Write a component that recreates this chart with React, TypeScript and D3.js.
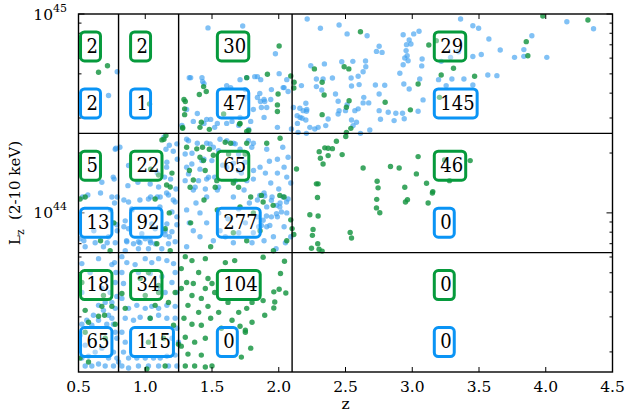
import React from 'react';
import * as d3 from 'd3';

// ---------- data ----------
const zEdges = [0.5, 0.8, 1.25, 2.1, 4.5];
const logLEdges = [45, 44.4, 43.8, 43.2];
const xTickValues = [0.5, 1.0, 1.5, 2.0, 2.5, 3.0, 3.5, 4.0, 4.5];
const yMajorExps = [44, 45];
const greenCounts = [
  [2, 2, 30, 29],
  [5, 22, 65, 46],
  [18, 34, 104, 0],
];
const blueCounts = [
  [2, 1, 47, 145],
  [13, 92, 277, 0],
  [65, 115, 0, 0],
];

// [z, log10 Lx]
const bluePoints: [number, number][] = [
  [0.79,44.71],[0.725,44.59],
  [1.47,44.93],[1.73,44.94],[1.33,44.68],[1.425,44.68],[1.43,44.66],[1.76,44.68],[1.82,44.685],[1.75,44.62],
  [1.36,44.46],[1.44,44.45],[1.49,44.47],[1.52,44.43],[1.65,44.46],[1.70,44.44],[1.775,44.42],[1.79,44.46],[1.275,44.44],[1.61,44.45],
  [1.975,44.80],[2.003,44.70],[1.865,44.67],[1.945,44.62],[2.033,44.63],[2.07,44.61],[1.858,44.60],[1.895,44.56],[1.863,44.56],[1.94,44.57],[1.87,44.53],
  [1.84,44.685],[1.34,44.68],[1.44,44.65],[1.61,44.64],[1.64,44.63],[1.71,44.67],[1.76,44.58],[1.84,44.58],[1.89,44.57],[1.91,44.53],
  [2.04,44.63],[2.06,44.67],[1.31,44.52],[1.39,44.50],[1.46,44.47],[1.54,44.45],[1.71,44.48],[1.81,44.52],[1.89,44.48],[1.99,44.43],
  [2.11,44.53],[2.16,44.48],[2.21,44.52],
  [2.213,44.975],[2.312,44.928],[2.452,44.945],[2.512,44.90],[2.662,44.891],[2.732,44.812],[2.774,44.807],[2.752,44.838],[2.932,44.896],
  [2.977,44.869],[2.99,44.849],[2.957,44.846],[3.011,44.90],[3.051,44.913],[2.954,44.816],[2.962,44.79],[2.944,44.779],[2.969,44.765],
  [3.074,44.774],[3.071,44.739],[2.932,44.745],[2.907,44.702],[2.24,44.74],[2.342,44.749],[2.472,44.76],[2.555,44.762],[2.65,44.764],
  [2.652,44.735],[2.632,44.71],[2.595,44.687],[2.542,44.678],[2.282,44.673],[2.332,44.673],[2.402,44.678],[2.17,44.64],[2.282,44.635],
  [2.322,44.618],[2.425,44.598],[2.545,44.638],[2.602,44.645],[2.724,44.643],[2.794,44.642],[2.752,44.598],[2.937,44.648],[2.977,44.623],
  [3.056,44.673],[3.081,44.568],[2.637,44.581],[2.674,44.553],[2.632,44.553],[2.445,44.561],[2.452,44.514],[2.512,44.544],[2.50,44.514],
  [2.57,44.514],[2.595,44.523],[2.203,44.551],[2.158,44.526],[2.183,44.514],[2.208,44.511],[2.138,44.489],[2.175,44.476],[2.203,44.467],
  [2.14,44.45],[2.233,44.43],[2.27,44.422],[2.295,44.43],[2.352,44.439],[2.37,44.472],[2.445,44.497],[2.545,44.467],[2.582,44.456],
  [2.557,44.439],[2.612,44.40],[2.682,44.417],[2.752,44.514],[2.82,44.506],[2.762,44.471],[2.864,44.464],[2.877,44.501],[2.927,44.501],
  [2.94,44.473],[3.044,44.511],[2.145,44.405],[2.095,44.422],[2.207,44.40],
  [3.362,44.975],[3.454,44.941],[3.497,44.928],[3.574,44.874],[3.659,44.819],[3.517,44.796],[3.454,44.786],[3.766,44.782],[3.836,44.821],
  [3.836,44.787],[4.008,44.782],[3.896,44.891],[4.158,44.961],[4.358,44.926],[3.566,44.693],[3.634,44.69],[3.387,44.673],[3.297,44.673],
  [3.197,44.67],[3.254,44.64],[3.454,44.643],[3.287,44.782],[3.217,44.762],[3.347,44.81],
  // col 1 row 2
  [0.78,44.325],[0.76,44.18],[0.665,44.10],[0.74,44.015],[0.615,43.91],[0.54,43.86],[0.715,43.85],[0.79,43.91],[0.53,44.08],[0.57,44.09],
  [0.75,44.08],[0.77,44.05],[0.725,43.88],[0.687,43.83],[0.55,43.83],[0.625,43.85],[0.775,43.85],[0.787,43.94],[0.51,43.87],
  [0.775,44.32],[0.767,44.17],[0.675,44.154],
  // col 2 row 2
  [0.875,44.238],[0.87,44.137],[0.945,44.154],[1.037,44.145],[1.155,44.32],[1.162,44.255],[1.237,44.347],[1.145,44.18],[1.10,44.13],
  [1.14,44.38],[1.18,44.34],[1.21,44.31],[1.24,44.27],[1.16,44.23],[1.09,44.20],[1.19,44.17],[1.23,44.12],[1.16,44.10],[1.21,44.065],
  [1.11,44.03],[0.81,44.33],[0.79,44.08],[0.84,44.065],[0.90,44.015],[0.96,44.065],[1.04,44.08],[1.09,44.08],[1.15,43.91],[1.18,43.88],
  [1.04,43.85],[0.96,43.85],[0.86,43.86],[0.84,43.93],
  [1.024,44.07],[1.112,44.08],[1.174,44.09],[1.224,44.055],[1.2,44.005],[1.237,43.98],[0.875,44.055],[0.9,44.02],[0.85,43.96],[0.875,43.92],
  [0.862,43.855],[0.912,43.845],[0.949,43.855],[1.0,43.87],[1.037,43.86],[1.074,43.845],[1.149,43.89],[1.2,43.905],[1.174,43.845],
  [1.224,43.855],[1.124,43.82],[1.024,43.82],[0.949,43.82],[0.85,43.81],[1.237,43.94],[0.974,43.895],[1.074,43.92],[1.162,43.945],[1.049,43.945],
  // col 3 row 2
  [1.324,44.363],[1.299,44.296],[1.349,44.246],[1.399,44.162],[1.486,44.347],[1.499,44.263],[1.549,44.313],[1.611,44.363],[1.674,44.347],
  [1.699,44.296],[1.773,44.363],[1.798,44.33],[1.748,44.255],[1.811,44.213],[1.761,44.162],[1.674,44.162],[1.549,44.129],[1.474,44.179],
  [1.374,44.129],[1.324,44.196],[1.424,44.263],[1.611,44.229],[1.699,44.213],[1.299,44.162],
  [1.31,44.37],[1.39,44.35],[1.46,44.35],[1.51,44.33],[1.56,44.37],[1.66,44.35],[1.71,44.32],[1.81,44.35],[1.91,44.32],[1.99,44.27],
  [2.04,44.23],[2.06,44.18],[2.09,44.15],[1.99,44.20],[1.94,44.15],[1.89,44.10],[1.84,44.065],[1.91,44.03],[2.01,44.05],[2.06,44.00],
  [1.99,43.98],[2.04,43.93],[2.09,43.88],[1.96,43.88],[1.89,43.86],[1.81,43.90],[1.91,43.93],[1.84,43.98],[1.41,44.22],[1.36,44.115],
  [1.31,44.015],[1.41,44.0],[1.46,43.95],[1.41,43.88],[1.51,43.86],[1.56,43.91],[1.66,43.85],[1.36,43.91],[1.31,43.83],[1.46,44.08],
  [1.54,44.115],[1.66,44.08],[1.74,44.115],[1.81,44.17],[1.86,44.23],[1.44,44.27],[1.31,44.23],[1.46,44.17],
  [1.55,44.0],[1.62,43.97],[1.70,44.02],[1.75,43.95],[1.78,44.05],[1.85,43.93],[1.95,44.08],[2.0,44.12],[1.72,44.20],[1.66,44.25],
  [1.58,44.24],[1.52,44.18],[1.90,44.20],[1.93,44.26],[2.03,44.33],[2.07,44.28],[1.35,44.30],[1.38,44.05],[1.33,43.95],[1.45,44.12],
  [1.60,43.88],[1.70,43.90],[1.80,43.85],[1.98,43.82],[2.05,43.85],
  [1.858,44.088],[1.895,44.085],[1.945,44.063],[1.983,44.038],[2.008,44.03],[2.033,44.08],[2.058,44.055],[2.02,44.005],[1.983,43.996],
  [1.945,43.98],[1.908,43.984],[1.883,43.963],[1.933,43.937],[1.87,43.937],[2.07,44.07],
  // col 1 row 3
  [0.65,43.77],[0.75,43.74],[0.77,43.75],[0.78,43.70],[0.525,43.745],[0.587,43.70],[0.525,43.60],[0.612,43.485],[0.65,43.535],[0.687,43.51],
  [0.725,43.485],[0.75,43.47],[0.762,43.44],[0.775,43.52],[0.787,43.58],[0.70,43.55],[0.562,43.46],[0.525,43.44],[0.6,43.435],[0.65,43.46],
  [0.712,43.44],[0.775,43.40],[0.787,43.37],[0.762,43.30],[0.725,43.27],[0.70,43.23],[0.65,43.24],[0.60,43.23],[0.55,43.23],[0.525,43.27],
  [0.575,43.28],[0.762,43.23],[0.787,43.27],[0.625,43.30],[0.675,43.32],[0.55,43.335],[0.512,43.385],[0.737,43.60],[0.675,43.62],[0.775,43.65],
  [0.75,43.55],
  // col 2 row 3
  [0.825,43.78],[0.862,43.75],[0.924,43.74],[1.0,43.77],[1.049,43.75],[1.1,43.77],[1.162,43.76],[1.212,43.745],[0.825,43.70],[0.837,43.645],
  [0.949,43.70],[1.037,43.695],[1.124,43.68],[1.224,43.70],[1.2,43.65],[1.149,43.60],[1.112,43.62],[1.237,43.60],[0.825,43.57],[0.875,43.52],
  [0.937,43.535],[1.0,43.52],[1.049,43.53],[1.1,43.52],[1.162,43.535],[1.224,43.53],[0.85,43.47],[0.912,43.46],[0.962,43.475],[1.037,43.47],
  [1.1,43.485],[1.162,43.47],[1.224,43.47],[0.825,43.40],[0.85,43.35],[0.837,43.30],[0.875,43.27],[0.937,43.27],[1.0,43.27],[1.062,43.27],
  [1.112,43.27],[1.162,43.28],[1.224,43.285],[1.249,43.35],[1.2,43.37],[0.825,43.23],[0.875,43.22],[0.949,43.23],[1.024,43.23],[1.1,43.23],
  [1.174,43.23],[1.237,43.23],[0.8,43.25],[1.237,43.42],
];

const greenPoints: [number, number][] = [
  [0.717,44.74],[0.65,44.707],[1.032,44.548],
  [1.437,44.635],[1.457,44.61],[1.405,44.595],[1.30,44.56],[1.295,44.523],[1.295,44.494],[1.587,44.497],[1.28,44.425],[1.42,44.456],
  [1.707,44.447],[1.775,44.414],[2.003,44.839],[1.915,44.697],[1.995,44.598],[1.99,44.543],[2.09,44.688],
  [1.76,44.68],[1.71,44.45],[1.41,44.43],[1.48,44.42],[1.76,44.41],[1.99,44.51],[1.29,44.57],[1.28,44.43],
  [2.612,44.911],[3.124,44.844],[2.267,44.724],[2.49,44.735],[2.525,44.724],[2.325,44.657],[2.34,44.593],[2.115,44.657],[2.113,44.628],
  [2.507,44.531],[2.527,44.564],[2.797,44.556],[2.986,44.518],[3.044,44.648],[2.325,44.494],[2.507,44.405],[2.54,44.425],[3.978,44.99],
  [4.316,44.97],[3.854,44.861],[3.866,44.79],[3.309,44.727],[3.217,44.693],[3.467,44.687],[3.204,44.581],[3.18,44.866],
  // col 4 row 2
  [2.432,44.36],[2.303,44.308],[2.345,44.327],[2.37,44.325],[2.402,44.323],[2.312,44.275],[2.37,44.288],[2.332,44.246],[2.475,44.293],
  [2.133,44.221],[2.632,44.226],[2.837,44.233],[2.902,44.226],[2.737,44.159],[2.744,44.126],[2.944,44.129],[3.031,44.196],[3.044,44.283],
  [3.107,44.149],[2.282,44.146],[2.295,44.146],[2.502,44.384],[3.434,44.263],[3.279,44.162],[3.242,44.266],[3.154,44.107],
  [2.29,44.077],[2.233,43.991],[2.295,43.984],[2.10,43.921],[2.113,43.891],[2.257,43.917],[2.252,43.887],[2.292,43.845],[2.245,43.822],
  [2.302,43.817],[2.325,43.808],[2.535,43.902],[2.545,43.874],[2.734,44.068],[2.732,44.025],[2.757,44.001],[2.949,44.055],[2.964,44.066],
  [3.119,44.05],[3.151,44.1],
  // col 1/2 row 2
  [0.55,44.08],[0.665,43.86],[0.765,43.95],[0.512,44.07],[0.737,43.81],
  [1.14,44.37],[1.20,44.2],[1.16,44.14],[1.04,44.22],[1.18,44.0],[1.087,43.845],[1.074,44.07],[1.149,43.92],[1.187,43.81],[1.125,44.367],
  [1.155,44.389],[1.10,44.19],[1.187,44.13],
  // col 3 row 2
  [1.31,44.33],[1.41,44.28],[1.48,44.32],[1.51,44.29],[1.64,44.35],[1.76,44.35],[1.91,44.35],[2.01,44.375],[1.66,44.15],[1.71,44.03],
  [1.79,44.08],[1.81,44.0],[1.86,43.91],[1.54,44.015],[1.44,44.065],[1.36,44.165],[1.34,43.95],[1.49,43.83],[1.66,43.90],[1.76,43.86],
  [2.04,44.08],[2.09,43.965],[2.06,43.86],[1.96,43.81],
  [1.386,44.322],[1.429,44.33],[1.599,44.355],[1.436,44.263],[1.331,44.213],[1.449,44.213],[1.536,44.162],[1.624,44.296],[1.748,44.296],
  [1.336,44.129],[1.524,44.129],[1.699,44.129],[1.87,44.088],[2.008,44.088],[1.958,44.038],[1.883,44.055],
  // col 3 row 3
  [1.30,43.78],[1.35,43.76],[1.45,43.77],[1.60,43.75],[1.67,43.76],[1.27,43.72],[1.40,43.70],[1.31,43.65],[1.36,43.645],[1.47,43.67],
  [1.50,43.645],[1.27,43.62],[1.45,43.62],[1.35,43.585],[1.42,43.57],[1.52,43.60],[1.32,43.535],[1.40,43.50],[1.47,43.53],[1.55,43.50],
  [1.62,43.55],[1.70,43.50],[1.76,43.52],[1.80,43.55],[1.29,43.47],[1.35,43.44],[1.42,43.435],[1.49,43.47],[1.57,43.42],[1.65,43.46],
  [1.71,43.43],[1.75,43.41],[1.80,43.45],[1.30,43.375],[1.37,43.35],[1.45,43.37],[1.75,43.40],[1.79,43.32],[1.32,43.29],[1.42,43.285],
  [1.50,43.23],[1.72,43.275],[1.30,43.23],[1.37,43.23],[1.45,43.225],[1.27,43.33],
  [1.883,43.777],[2.043,43.757],[2.013,43.695],[1.963,43.603],[2.003,43.616],[2.053,43.597],[1.883,43.559],[1.97,43.552],[1.963,43.522],
  [1.895,43.485],
  // col 1/2 row 3
  [0.575,43.45],[0.65,43.48],[0.695,43.485],[0.55,43.51],[0.675,43.53],[0.687,43.585],[0.75,43.53],[0.512,43.27],[0.575,43.25],[0.70,43.37],
  [0.775,43.44],[0.55,43.40],[0.525,43.65],
  [1.024,43.70],[0.962,43.67],[1.1,43.60],[1.074,43.535],[1.174,43.55],[1.212,43.435],[1.037,43.47],[1.0,43.585],[1.1,43.635],[0.85,43.52],
  [1.024,43.35],[1.249,43.34],[1.137,43.37],[1.012,43.215],[1.149,43.23],[0.825,43.595],[1.224,43.60],
];

// ---------- layout ----------
const W = 627, H = 418;
const M = { left: 78.5, right: 612.5, top: 14, bottom: 372 };

const BLUE_DOT = '#3d9ff0';
const GREEN_DOT = '#149440';
const BLUE_BOX = '#0a94f5';
const GREEN_BOX = '#069a3c';
const SERIF = "'DejaVu Serif', serif";

export default function App() {
  const x = d3.scaleLinear().domain([zEdges[0], zEdges[zEdges.length - 1]]).range([M.left, M.right]);
  const y = d3.scaleLog()
    .domain([Math.pow(10, logLEdges[logLEdges.length - 1]), Math.pow(10, logLEdges[0])])
    .range([M.bottom, M.top]);
  const yl = (l: number) => y(Math.pow(10, l));

  const minorTicks: number[] = [];
  for (const e of [43, 44]) {
    for (let k = 2; k <= 9; k++) {
      const v = k * Math.pow(10, e);
      if (v >= y.domain()[0] && v <= y.domain()[1]) minorTicks.push(v);
    }
  }

  const digitW = 11.45;
  const labels: any[] = [];
  for (let r = 0; r < 3; r++) {
    const top = yl(logLEdges[r]);
    for (let c = 0; c < 4; c++) {
      const mid = (zEdges[c] + zEdges[c + 1]) / 2;
      const tx = x(mid) - 12;
      labels.push({ key: `g${r}${c}`, text: String(greenCounts[r][c]), tx, cy: top + 32.4, color: GREEN_BOX });
      labels.push({ key: `b${r}${c}`, text: String(blueCounts[r][c]), tx, cy: top + 89.4, color: BLUE_BOX });
    }
  }

  return (
    <svg width={W} height={H} style={{ position: 'absolute', left: 0, top: 0, background: '#fff' }}>
      <defs>
        <clipPath id="plotclip">
          <rect x={M.left} y={M.top} width={M.right - M.left} height={M.bottom - M.top} />
        </clipPath>
      </defs>
      <rect x={0} y={0} width={W} height={H} fill="#fff" />
      <g clipPath="url(#plotclip)">
        {bluePoints.map((p, i) => (
          <circle key={'b' + i} cx={x(p[0])} cy={yl(p[1])} r={2.7} fill={BLUE_DOT} fillOpacity={0.65} />
        ))}
        {greenPoints.map((p, i) => (
          <circle key={'g' + i} cx={x(p[0])} cy={yl(p[1])} r={2.7} fill={GREEN_DOT} fillOpacity={0.82} />
        ))}
      </g>
      {/* partition lines */}
      {zEdges.slice(1, -1).map((z) => (
        <line key={'vz' + z} x1={x(z)} x2={x(z)} y1={M.top} y2={M.bottom} stroke="#000" strokeWidth={1.4} />
      ))}
      {logLEdges.slice(1, -1).map((l) => (
        <line key={'hl' + l} x1={M.left} x2={M.right} y1={yl(l)} y2={yl(l)} stroke="#000" strokeWidth={1.4} />
      ))}
      {/* ticks */}
      {xTickValues.map((t) => (
        <g key={'xt' + t}>
          <line x1={x(t)} x2={x(t)} y1={M.bottom} y2={M.bottom - 5} stroke="#000" strokeWidth={1} />
          <line x1={x(t)} x2={x(t)} y1={M.top} y2={M.top + 5} stroke="#000" strokeWidth={1} />
          <text x={x(t)} y={391.5} textAnchor="middle" fontFamily={SERIF} fontSize={15.5} fill="#000">{t.toFixed(1)}</text>
        </g>
      ))}
      {minorTicks.map((v, i) => (
        <g key={'mt' + i}>
          <line x1={M.left} x2={M.left + 3} y1={y(v)} y2={y(v)} stroke="#000" strokeWidth={1} />
          <line x1={M.right} x2={M.right - 3} y1={y(v)} y2={y(v)} stroke="#000" strokeWidth={1} />
        </g>
      ))}
      {yMajorExps.map((e) => (
        <g key={'yt' + e}>
          <line x1={M.left} x2={M.left + 6} y1={y(Math.pow(10, e))} y2={y(Math.pow(10, e))} stroke="#000" strokeWidth={1} />
          <line x1={M.right} x2={M.right - 6} y1={y(Math.pow(10, e))} y2={y(Math.pow(10, e))} stroke="#000" strokeWidth={1} />
          <text x={67} y={y(Math.pow(10, e)) + 5.5} textAnchor="end" fontFamily={SERIF} fontSize={15.5} fill="#000">
            10<tspan fontSize={11} dy={-8}>{e}</tspan>
          </text>
        </g>
      ))}
      {/* frame */}
      <rect x={M.left} y={M.top} width={M.right - M.left} height={M.bottom - M.top} fill="none" stroke="#000" strokeWidth={1.4} />
      {/* count boxes */}
      {labels.map((lb) => {
        const n = lb.text.length;
        const outerL = lb.tx - 7.5;
        const outerR = lb.tx + n * digitW + 4;
        const outerT = lb.cy - 16;
        const sw = 3;
        return (
          <g key={lb.key}>
            <rect x={outerL + sw / 2} y={outerT + sw / 2} width={outerR - outerL - sw} height={32 - sw}
              rx={4} ry={4} fill="#fff" fillOpacity={0.35} stroke={lb.color} strokeWidth={sw} />
            <text transform={`translate(${lb.tx},${lb.cy + 6.4}) scale(0.9,1)`} fontFamily={SERIF} fontSize={20} fill="#000">{lb.text}</text>
          </g>
        );
      })}
      {/* axis labels */}
      <text x={(M.left + M.right) / 2} y={409} textAnchor="middle" fontFamily={SERIF} fontSize={15.5} fill="#000">z</text>
      <text transform={`translate(20,${(M.top + M.bottom) / 2}) rotate(-90)`} textAnchor="middle" fontFamily={SERIF} fontSize={15} fill="#000">
        L<tspan fontSize={10.5} dy={4}>z</tspan><tspan dy={-4}>{'\u00a0 (2-10 keV)'}</tspan>
      </text>
    </svg>
  );
}
